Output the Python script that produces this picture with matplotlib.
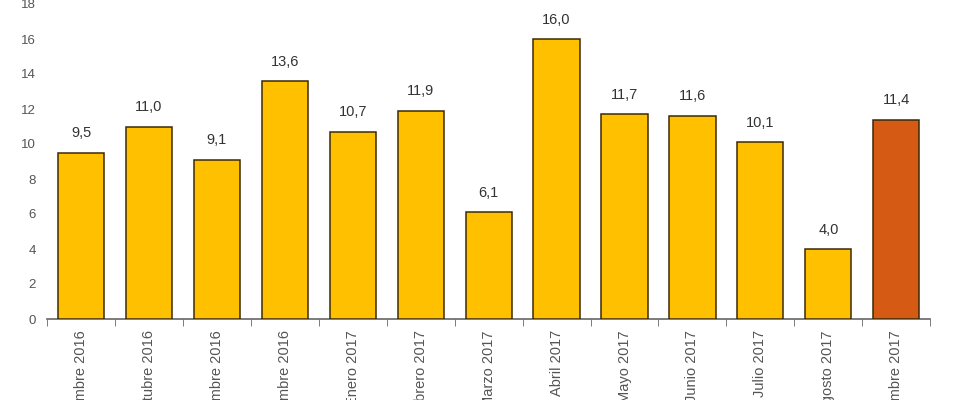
import matplotlib.pyplot as plt
import numpy as np

plt.rcParams['font.family'] = ['Liberation Sans', 'DejaVu Sans']

meses = ["Septiembre 2016", "Octubre 2016", "Noviembre 2016", "Diciembre 2016",
         "Enero 2017", "Febrero 2017", "Marzo 2017", "Abril 2017", "Mayo 2017",
         "Junio 2017", "Julio 2017", "Agosto 2017", "Septiembre 2017"]
valores = [9.5, 11.0, 9.1, 13.6, 10.7, 11.9, 6.1, 16.0, 11.7, 11.6, 10.1, 4.0, 11.4]
yticks = [0, 2, 4, 6, 8, 10, 12, 14, 16, 18]

amarillo = "#FFC000"
naranja = "#D55A14"
colores = [amarillo] * (len(valores) - 1) + [naranja]

fig = plt.figure(figsize=(9.6, 4), dpi=100)
ax = fig.add_axes([0.049, 0.2025, 0.92, 0.7875])

x = np.arange(len(valores))
barras = ax.bar(x, valores, width=0.68, color=colores, edgecolor="#3a2a05", linewidth=1.1, zorder=3)

# etiquetas con coma decimal
etiquetas = [f"{v:.1f}".replace(".", ",") for v in valores]
ax.bar_label(barras, labels=etiquetas, padding=9, fontsize=10.5, color="#333333")

ax.set_xlim(-0.5, len(valores) - 0.5)
ax.set_ylim(0, 18)
ax.set_yticks(yticks)
ax.tick_params(axis="y", length=0, labelsize=9.5, labelcolor="#555555", pad=8)

ax.set_xticks(x)
ax.set_xticklabels(meses, rotation=90, fontsize=10.5, color="#555555")
ax.tick_params(axis="x", which="major", length=0, pad=8)
ax.set_xticks(np.arange(-0.5, len(valores), 1), minor=True)
ax.tick_params(axis="x", which="minor", length=5, color="#666666", direction="out")

for lado in ["top", "right", "left"]:
    ax.spines[lado].set_visible(False)
ax.spines["bottom"].set_color("#666666")
ax.spines["bottom"].set_linewidth(1.2)

fig.savefig("out.png", dpi=100)
